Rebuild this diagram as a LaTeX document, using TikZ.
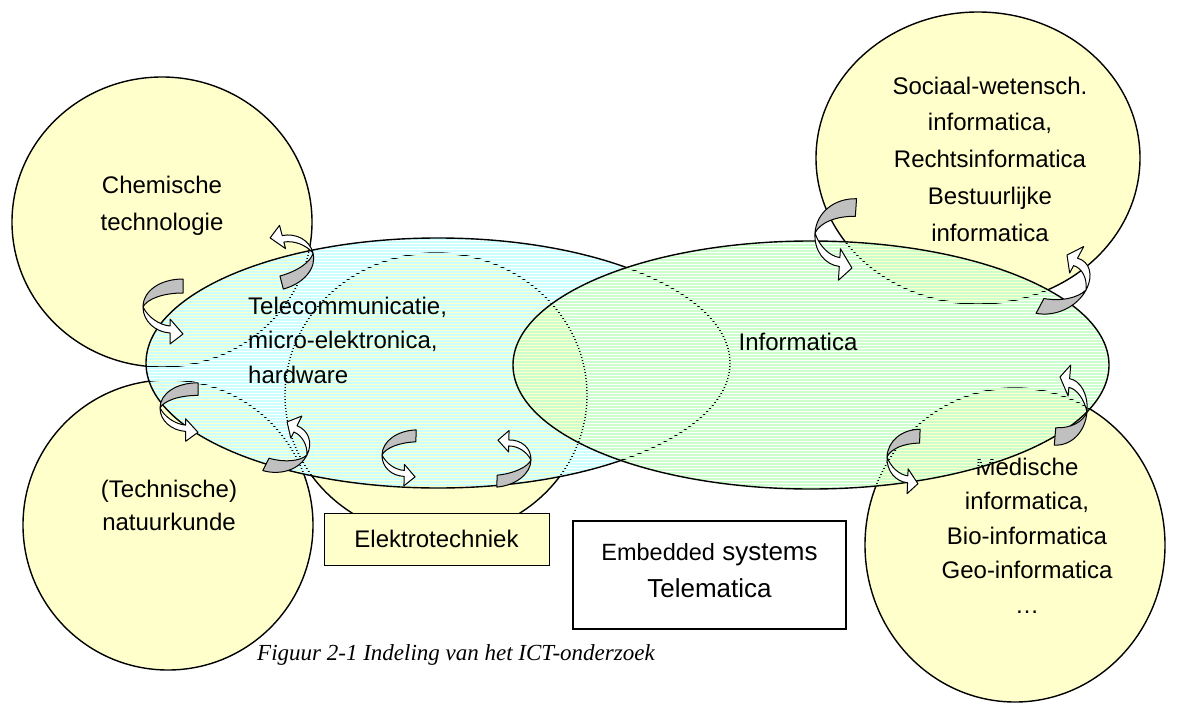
\documentclass[tikz,border=0pt]{standalone}
\usepackage{fontspec}
\setmainfont{Liberation Sans}
\newfontfamily\capfont{Liberation Serif}
\definecolor{circfill}{HTML}{FFFFCC}
\definecolor{cyanstripe}{HTML}{CCFFFF}
\definecolor{greenstripe}{HTML}{CCFFCC}
\definecolor{arrowgrey}{HTML}{C0C0C0}
\tikzset{
  outline/.style={draw=black, line width=1.4pt},
  circ/.style={outline, fill=circfill},
  lbl/.style={font=\fontsize{24}{36}\selectfont, align=center, inner sep=0pt, anchor=base},
  carrow/.pic={
    \filldraw[fill=arrowgrey, draw=black, line width=1pt, line join=round]
      (40,-28) .. controls (17,-28) and (0,-16) .. (0,0) .. controls (4,-8) and (20,-14) .. (40,-14) -- cycle;
    \filldraw[fill=white, draw=black, line width=1pt, line join=round]
      (0,0) .. controls (0,14) and (12,25) .. (27,26) -- (27,37) -- (40,27) -- (27,12) -- (27,19) .. controls (16,18) and (5,10) .. (0,0) -- cycle;
  }
}
\begin{document}
\begin{tikzpicture}[x=1pt,y=-1pt]
\useasboundingbox[fill=white] (0,0) rectangle (1184,704);
% background circles
\path[circ] (162,222) ellipse[x radius=150, y radius=145];
\path[circ] (168,525) circle[radius=145];
\path[circ] (436,395) ellipse[x radius=151, y radius=142];
\path[circ] (978,158) ellipse[x radius=162, y radius=146];
\path[circ] (1015,545) ellipse[x radius=150, y radius=157];
% circle labels (anchor = baseline of last line)
\node (chem) [lbl, font=\fontsize{24}{37}\selectfont] at (162,230) {Chemische\\technologie};
\node (tech) [lbl, font=\fontsize{24}{33}\selectfont] at (169,530) {(Technische)\\natuurkunde};
\node (soc) [lbl, font=\fontsize{24}{36.7}\selectfont] at (990,241) {Sociaal-wetensch.\\informatica,\\Rechtsinformatica\\Bestuurlijke\\informatica};
\node (med) [lbl, font=\fontsize{24}{34.5}\selectfont] at (1027,613) {Medische\\informatica,\\Bio-informatica\\Geo-informatica\\\dots};
% Elektrotechniek box
\node (elek) [draw=black, line width=1pt, fill=circfill, minimum width=225pt, minimum height=52pt, inner sep=0pt, font=\fontsize{24}{28}\selectfont] at (436.5,539) {Elektrotechniek};
% ellipse A (striped cyan)
\begin{scope}
  \clip (438,363) ellipse[x radius=292, y radius=125];
  \foreach \k in {78,...,164} \draw[cyanstripe, line width=2pt] (140,3*\k+1.5) -- (740,3*\k+1.5);
\end{scope}
\draw[outline] (438,363) ellipse[x radius=292, y radius=125];
% ellipse B (striped green)
\begin{scope}
  \clip (811,365) ellipse[x radius=298, y radius=124];
  \foreach \k in {79,...,164} \draw[greenstripe, line width=2pt] (505,3*\k+1.5) -- (1115,3*\k+1.5);
\end{scope}
\draw[outline] (811,365) ellipse[x radius=298, y radius=124];
% ellipse labels
\node (tele) [lbl, font=\fontsize{24}{34.5}\selectfont, align=left, anchor=base west] at (248,383) {Telecommunicatie,\\micro-elektronica,\\hardware};
\node (info) [lbl] at (798,350) {Informatica};
% curved arrows
\pic[rotate=180, cm={0.91,0.25,-0.24,0.93,(0,0)}] at (313,253) {carrow};
\pic at (143,307) {carrow};
\pic[cm={0.95,0,0,0.9,(0,0)}] at (160,408) {carrow};
\pic[rotate=180, cm={0.795,-0.23,0.44,0.885,(0,0)}] at (307,455) {carrow};
\pic[cm={0.84,0.03,0.02,0.854,(0,0)}] at (382,455) {carrow};
\pic[rotate=180, cm={0.84,0.08,0.02,0.854,(0,0)}] at (531,460) {carrow};
\pic[cm={0.98,-0.025,0.083,1.26,(0,0)}] at (815,233) {carrow};
\pic[rotate=180, cm={0.855,-0.158,0.5625,1.06,(0,0)}] at (1086,290) {carrow};
\pic[rotate=180, cm={0.745,-0.04,0.104,1.24,(0,0)}] at (1087,412) {carrow};
\pic[cm={0.80,0,0.04,0.99,(0,0)}] at (887,457) {carrow};
% Embedded box
\node (emb) [draw=black, line width=1.2pt, fill=white, minimum width=273pt, minimum height=108pt, inner sep=0pt] at (709.5,575) {};
\node (embt) [lbl, font=\fontsize{26}{37}\selectfont] at (709.5,597) {{\fontsize{23.5}{37}\selectfont Embedded} systems\\Telematica};
% caption
\node (cap) [font=\capfont\itshape\fontsize{23}{28}\selectfont, inner sep=0pt, anchor=base west] at (257,660) {Figuur 2-1 Indeling van het ICT-onderzoek};
\end{tikzpicture}
\end{document}
